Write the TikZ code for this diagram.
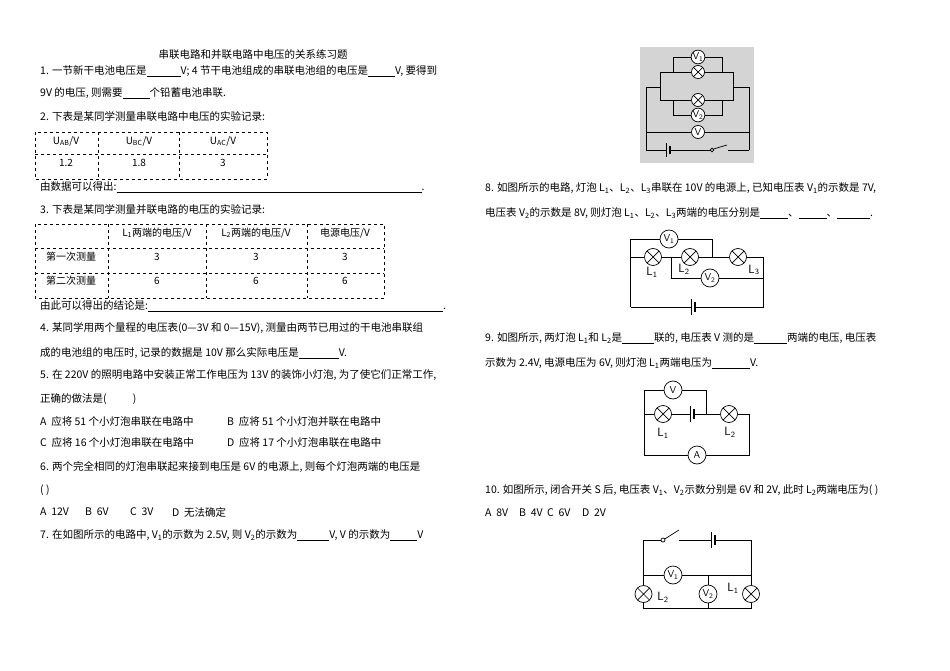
\documentclass[tikz,border=0pt]{standalone}
\usepackage{fontspec}
\usetikzlibrary{calc}
\setmainfont{Noto Sans CJK SC}
\newcommand\bl[1]{\underline{\hspace{#1pt}}}
\newcommand\mybatt[4]{% x y fill size
  \fill[#3] (#1-2.5,#2-1.5) rectangle (#1+2.5,#2+1.5);
  \draw (#1-2,#2-#4) -- (#1-2,#2+#4);
  \draw[line width=1.4pt] (#1+2,#2-0.6*#4) -- (#1+2,#2+0.6*#4);}
\begin{document}
\begin{tikzpicture}[x=1pt,y=-1pt,
  tx/.style={anchor=west,inner sep=0pt,font=\fontsize{10.5}{12}\selectfont},
  cell/.style={inner sep=0pt,font=\fontsize{10}{12}\selectfont},
  wire/.style={line width=0.7pt},
  lamp/.style={circle,draw,line width=0.7pt,fill=white,minimum size=#1,inner sep=0pt,
    path picture={\draw[line width=0.7pt] (path picture bounding box.north west)--(path picture bounding box.south east)
    (path picture bounding box.north east)--(path picture bounding box.south west);}},
  lamp/.default=17pt,
  meter/.style={circle,draw,line width=0.7pt,fill=white,minimum size=#1,inner sep=0pt,font=\sffamily\fontsize{10}{10}\selectfont},
  meter/.default=18pt,
  lab/.style={inner sep=0pt,font=\sffamily\fontsize{12}{12}\selectfont}]
\useasboundingbox (0,0) rectangle (950,671);
\fill[white] (0,0) rectangle (950,671);
% ---------- left column
\node[inner sep=0pt,font=\fontsize{10.5}{12}\selectfont] (title) at (253,55) {串联电路和并联电路中电压的关系练习题};
\node[tx] (q1) at (40,71) {1. 一节新干电池电压是\bl{34}V; 4 节干电池组成的串联电池组的电压是\bl{27}V, 要得到};
\node[tx] (q1b) at (40,93) {9V 的电压, 则需要\bl{27}个铅蓄电池串联.};
\node[tx] (q2) at (40,117) {2. 下表是某同学测量串联电路中电压的实验记录:};
\draw[dashed,line width=0.6pt] (35,132) rectangle (267,179) (35,154)--(267,154) (98,132)--(98,179) (179,132)--(179,179);
\node[cell] (c11) at (66,141) {U\textsubscript{AB}/V};
\node[cell] (c12) at (139,141) {U\textsubscript{BC}/V};
\node[cell] (c13) at (223,141) {U\textsubscript{AC}/V};
\node[cell] (c21) at (66,163) {1.2};
\node[cell] (c22) at (139,163) {1.8};
\node[cell] (c23) at (223,163) {3};
\node[tx] (q2c) at (40,187) {由数据可以得出:\bl{305}.};
\node[tx] (q3) at (40,210) {3. 下表是某同学测量并联电路的电压的实验记录:};
\draw[dashed,line width=0.6pt] (35,224) rectangle (384,298) (35,248)--(384,248) (35,273)--(384,273)
  (108,224)--(108,298) (206,224)--(206,298) (307,224)--(307,298);
\node[cell] (d12) at (157,233) {L\textsubscript{1}两端的电压/V};
\node[cell] (d13) at (256,233) {L\textsubscript{2}两端的电压/V};
\node[cell] (d14) at (345,233) {电源电压/V};
\node[cell] (d21) at (71,257) {第一次测量};
\node[cell] (d22) at (157,257) {3};
\node[cell] (d23) at (256,257) {3};
\node[cell] (d24) at (345,257) {3};
\node[cell] (d31) at (71,281) {第二次测量};
\node[cell] (d32) at (157,281) {6};
\node[cell] (d33) at (256,281) {6};
\node[cell] (d34) at (345,281) {6};
\node[tx] (q3c) at (40,306) {由此可以得出的结论是:\bl{295}.};
\node[tx] (q4) at (40,328) {4. 某同学用两个量程的电压表(0—3V 和 0—15V), 测量由两节已用过的干电池串联组};
\node[tx] (q4b) at (40,353) {成的电池组的电压时, 记录的数据是 10V 那么实际电压是\bl{40}V.};
\node[tx] (q5) at (40,375) {5. 在 220V 的照明电路中安装正常工作电压为 13V 的装饰小灯泡, 为了使它们正常工作,};
\node[tx] (q5b) at (40,399) {正确的做法是(\hspace{2.5em})};
\node[tx] (q5A) at (40,422) {A\ \ 应将 51 个小灯泡串联在电路中};
\node[tx] (q5B) at (227,422) {B\ \ 应将 51 个小灯泡并联在电路中};
\node[tx] (q5C) at (40,443) {C\ \ 应将 16 个小灯泡串联在电路中};
\node[tx] (q5D) at (227,443) {D\ \ 应将 17 个小灯泡串联在电路中};
\node[tx] (q6) at (40,467) {6. 两个完全相同的灯泡串联起来接到电压是 6V 的电源上, 则每个灯泡两端的电压是};
\node[tx] (q6b) at (40,490) {( )};
\node[tx] (q6A) at (40,512) {A\ \ 12V};
\node[tx] (q6B) at (85,512) {B\ \ 6V};
\node[tx] (q6C) at (130,512) {C\ \ 3V};
\node[tx] (q6D) at (172,512) {D\ \ 无法确定};
\node[tx] (q7) at (40,535) {7. 在如图所示的电路中, V\textsubscript{1}的示数为 2.5V, 则 V\textsubscript{2}的示数为\bl{32}V, V 的示数为\bl{27}V};
% ---------- right column text
\node[tx] (q8) at (485,188) {8. 如图所示的电路, 灯泡 L\textsubscript{1}、L\textsubscript{2}、L\textsubscript{3}串联在 10V 的电源上, 已知电压表 V\textsubscript{1}的示数是 7V,};
\node[tx] (q8b) at (485,213) {电压表 V\textsubscript{2}的示数是 8V, 则灯泡 L\textsubscript{1}、L\textsubscript{2}、L\textsubscript{3}两端的电压分别是\bl{28}、\bl{28}、\bl{33}.};
\node[tx] (q9) at (485,338) {9. 如图所示, 两灯泡 L\textsubscript{1}和 L\textsubscript{2}是\bl{32}联的, 电压表 V 测的是\bl{33}两端的电压, 电压表};
\node[tx] (q9b) at (485,363) {示数为 2.4V, 电源电压为 6V, 则灯泡 L\textsubscript{1}两端电压为\bl{38}V.};
\node[tx] (q10) at (485,490) {10. 如图所示, 闭合开关 S 后, 电压表 V\textsubscript{1}、V\textsubscript{2}示数分别是 6V 和 2V, 此时 L\textsubscript{2}两端电压为( )};
\node[tx] (q10A) at (485,513) {A\ \ 8V};
\node[tx] (q10B) at (519,513) {B\ \ 4V};
\node[tx] (q10C) at (547,513) {C\ \ 6V};
\node[tx] (q10D) at (582,513) {D\ \ 2V};
% ---------- fig 7 (gray)
\fill[black!17] (640,47) rectangle (754,163);
\begin{scope}[every node/.append style={fill=black!17}]
\node[meter=13pt] (V1a) at (698,57) {V\textsubscript{1}};
\node[lamp=13pt] (La) at (698,72) {};
\node[lamp=13pt] (Lb) at (698,100) {};
\node[meter=13pt] (V2a) at (698,115) {V\textsubscript{2}};
\node[meter=13pt] (Va) at (698,132) {V};
\end{scope}
\draw[wire] (V1a.west) -- (673,57) -- (673,72) -- (La.west) (V1a.east) -- (722,57) -- (722,72) -- (La.east);
\draw[wire] (V2a.west) -- (673,115) -- (673,100) -- (Lb.west) (V2a.east) -- (722,115) -- (722,100) -- (Lb.east);
\draw[wire] (673,72) -- (660,72) -- (660,100) -- (673,100) (722,72) -- (733,72) -- (733,100) -- (722,100);
\draw[wire] (660,87) -- (646,87) -- (646,150) (733,87) -- (749,87) -- (749,150);
\draw[wire] (646,132) -- (Va.west) (Va.east) -- (749,132);
\coordinate (swa) at (712,150);
\draw[wire] (646,150) -- (swa) (749,150) -- (728,150);
\draw[wire,fill=black!17] (swa) circle (1.8pt);
\draw[wire] ($(swa)+(1.5,-1)$) -- (727,145);
\mybatt{668}{150}{black!17}{7}
% ---------- fig 8
\node[meter] (V1b) at (669,239) {V\textsubscript{1}};
\node[lamp] (L1b) at (653,257) {};
\node[lamp] (L2b) at (690,257) {};
\node[lamp] (L3b) at (738,257) {};
\node[meter] (V2b) at (710,278) {V\textsubscript{2}};
\draw[wire] (630.5,307) -- (630.5,239) -- (V1b.west) (V1b.east) -- (712,239) -- (712,257);
\draw[wire] (630.5,257) -- (L1b.west) (L1b.east) -- (L2b.west) (L2b.east) -- (L3b.west) (L3b.east) -- (763,257) -- (763,307) -- (630.5,307);
\draw[wire] (671,257) -- (671,278) -- (V2b.west) (V2b.east) -- (763,278);
\mybatt{693}{307}{white}{8}
\node[lab] (l1b) at (652,272) {L\textsubscript{1}};
\node[lab] (l2b) at (684,269) {L\textsubscript{2}};
\node[lab] (l3b) at (754,270) {L\textsubscript{3}};
% ---------- fig 9
\node[meter] (V9) at (673,390) {V};
\node[lamp] (L19) at (663,414) {};
\node[lamp] (L29) at (729,414) {};
\node[meter] (A9) at (697,455) {A};
\draw[wire] (644,455) -- (644,390) -- (V9.west) (V9.east) -- (706,390) -- (706,414);
\draw[wire] (644,414) -- (L19.west) (L19.east) -- (L29.west) (L29.east) -- (749,414) -- (749,455) -- (A9.east) (A9.west) -- (644,455);
\mybatt{692}{414}{white}{8}
\node[lab] (l19) at (663,433) {L\textsubscript{1}};
\node[lab] (l29) at (730,432) {L\textsubscript{2}};
% ---------- fig 10
\coordinate (sw10) at (663,540);
\node[meter] (V110) at (673,575) {V\textsubscript{1}};
\node[lamp] (L210) at (643.5,594) {};
\node[meter] (V210) at (708,594) {V\textsubscript{2}};
\node[lamp] (L110) at (751,594) {};
\draw[wire] (L210.north) -- (643.5,540) -- (sw10) (679,540) -- (751,540) -- (L110.north);
\draw[wire,fill=white] (sw10) circle (2pt);
\draw[wire] ($(sw10)+(1.7,-1)$) -- (679,530);
\mybatt{713}{540}{white}{8}
\draw[wire] (643.5,575) -- (V110.west) (V110.east) -- (751,575) (708,575) -- (V210.north);
\draw[wire] (L210.south) -- (643.5,608.5) -- (751,608.5) -- (L110.south) (V210.south) -- (708,608.5);
\node[lab] (l210) at (663,597) {L\textsubscript{2}};
\node[lab] (l110) at (733,588) {L\textsubscript{1}};
\end{tikzpicture}
\end{document}
